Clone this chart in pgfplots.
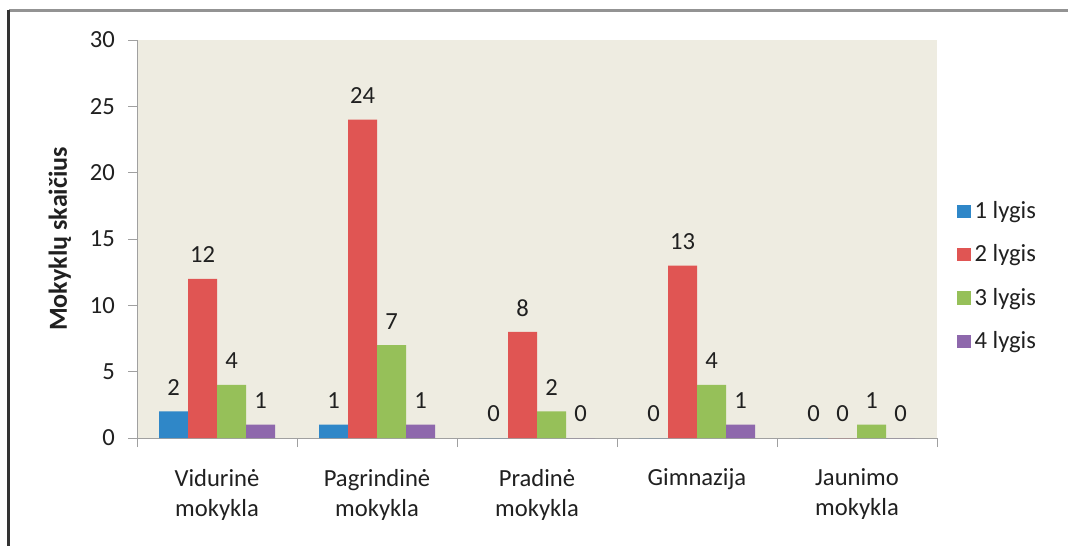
\documentclass[border=0pt]{standalone}
\usepackage{fontspec}
\setmainfont{Carlito}
\usepackage{pgfplots}
\pgfplotsset{compat=1.18}
\definecolor{bgc}{HTML}{EEECE1}
\definecolor{cA}{HTML}{2F87C8}
\definecolor{cB}{HTML}{E05553}
\definecolor{cC}{HTML}{96C059}
\definecolor{cD}{HTML}{8E68AC}
\definecolor{axc}{HTML}{A0A0A0}
\definecolor{txt}{HTML}{202020}
\begin{document}
\begin{tikzpicture}
\useasboundingbox (-68.5pt,-53.5pt) rectangle (465.5pt,219pt);
\fill[white] (-68.5pt,-53.5pt) rectangle (465.5pt,219pt);
\draw[color=gray!85,line width=1.5pt] (-64pt,213.5pt) -- (466pt,213.5pt);
\draw[color=black!80,line width=1.5pt] (-64.3pt,-54pt) -- (-64.3pt,214.2pt);
\begin{axis}[
  at={(0,0)}, anchor=south west,
  scale only axis, width=400pt, height=199pt,
  font=\fontsize{12.3}{14}\selectfont, 
  /pgf/number format/assume math mode=true,
  axis background/.style={fill=bgc},
  ybar=0pt, bar width=14.5pt,
  xmin=-0.5, xmax=4.5, ymin=0, ymax=30,
  xtick={0,1,2,3,4},
  xticklabels={{Vidurinė\\mokykla},{Pagrindinė\\mokykla},{Pradinė\\mokykla},{Gimnazija},{Jaunimo\\mokykla}},
  xticklabel style={align=center, text=txt, anchor=north, yshift=-7.5pt, font=\fontsize{12.3}{15}\selectfont},
  major x tick style={draw=none},
  minor xtick={-0.5,0.5,1.5,2.5,3.5,4.5},
  minor x tick style={draw=axc},
  minor tick length=4.5pt,
  ytick={0,5,...,30},
  major tick length=4.5pt,
  tick align=outside,
  y tick style={draw=axc},
  yticklabel style={text=txt, xshift=-3pt, font=\fontsize{12.3}{14}\selectfont},
  axis x line*=bottom, axis y line*=left,
  axis line style={draw=axc, -},
  ylabel={\textbf{Mokyklų skaičius}},
  ylabel style={at={(rel axis cs:0,0.5)}, yshift=38.5pt, anchor=center, text=txt, font=\fontsize{13}{15}\selectfont},
  nodes near coords,
  every node near coord/.append style={anchor=center, yshift=12pt, text=txt, font=\fontsize{12.3}{14}\selectfont},
  legend style={at={(axis description cs:1.025,0.406)}, anchor=west, draw=none, fill=none,
    font=\fontsize{12.3}{14}\selectfont, text=txt, row sep=7.6pt, inner sep=0pt},
  legend cell align=left,
  legend image code/.code={\fill[#1,draw=none] (0pt,-3.3pt) rectangle (6.6pt,3.3pt);},
]
\addplot[fill=cA, draw=none] coordinates {(0,2) (1,1) (2,0) (3,0) (4,0)};
\addplot[fill=cB, draw=none] coordinates {(0,12) (1,24) (2,8) (3,13) (4,0)};
\addplot[fill=cC, draw=none] coordinates {(0,4) (1,7) (2,2) (3,4) (4,1)};
\addplot[fill=cD, draw=none] coordinates {(0,1) (1,1) (2,0) (3,1) (4,0)};
\legend{1 lygis,2 lygis,3 lygis,4 lygis}
\end{axis}
\end{tikzpicture}
\end{document}
